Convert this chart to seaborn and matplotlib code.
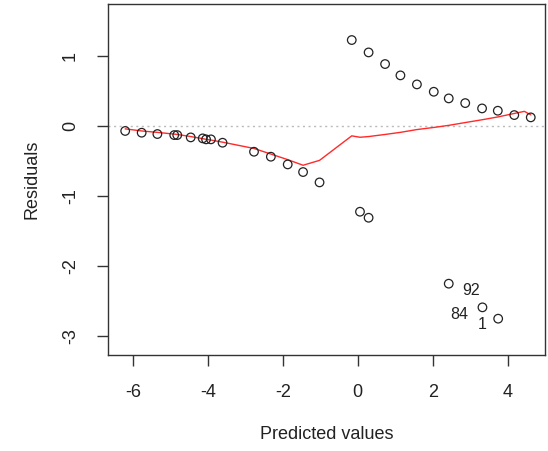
import numpy as np
import pandas as pd
import matplotlib
matplotlib.use("Agg")
import matplotlib.pyplot as plt
import seaborn as sns

# fitted values and residuals
fitted = [-6.21, -5.77, -5.35, -4.90, -4.82, -4.46, -4.14, -4.05, -3.92, -3.61,
          -2.77, -2.32, -1.87, -1.46, -1.02, -0.16, 0.06, 0.29, 0.29, 0.73,
          1.14, 1.58, 2.03, 2.43, 2.43, 2.87, 3.32, 3.33, 3.74, 3.75, 4.18, 4.62]
resid = [-0.07, -0.095, -0.114, -0.129, -0.129, -0.162, -0.176, -0.19, -0.19, -0.238,
         -0.367, -0.438, -0.548, -0.657, -0.805, 1.229, -1.224, 1.052, -1.31, 0.886,
         0.724, 0.595, 0.49, 0.395, -2.252, 0.328, 0.252, -2.59, 0.219, -2.752, 0.157, 0.124]

# smoother (lowess) curve
smooth_x = [-6.21, -5.77, -5.35, -4.90, -4.82, -4.46, -4.14, -4.05, -3.92, -3.61,
            -2.77, -2.32, -1.87, -1.46, -1.02, -0.16, 0.06, 0.29, 0.73, 1.14,
            1.58, 2.03, 2.43, 2.87, 3.32, 3.74, 4.18, 4.45, 4.62]
smooth_y = [-0.04, -0.07, -0.09, -0.115, -0.12, -0.15, -0.18, -0.19, -0.20, -0.23,
            -0.32, -0.40, -0.48, -0.56, -0.49, -0.14, -0.16, -0.15, -0.12, -0.09,
            -0.05, -0.02, 0.01, 0.05, 0.09, 0.13, 0.18, 0.21, 0.16]

# labelled observations
id_labels = ["92", "84", "1"]
id_x = [2.43, 3.33, 3.75]
id_y = [-2.252, -2.59, -2.752]

df = pd.DataFrame({"fitted": fitted, "resid": resid})
df_s = pd.DataFrame({"x": smooth_x, "y": smooth_y})

sns.set_style("white")
plt.rcParams["font.family"] = ["Liberation Sans", "DejaVu Sans"]

fig = plt.figure(figsize=(5.48, 4.51), dpi=100)
ax = fig.add_axes([0.197, 0.213, 0.7975, 0.778])

ax.axhline(0, color="#bbbbbb", linestyle=(0, (1.5, 2.5)), lw=1, zorder=1)
sns.scatterplot(data=df, x="fitted", y="resid", ax=ax, s=38, marker="o",
                facecolors="none", edgecolor="#222222", linewidth=0.9, zorder=3)
sns.lineplot(data=df_s, x="x", y="y", ax=ax, sort=False, estimator=None,
             color="#ff2a2a", lw=1.0, zorder=2)

offsets = [(10, -5), (-10, -5), (-8, -4)]
aligns = ["left", "right", "right"]
for lab, x, y, off, ha in zip(id_labels, id_x, id_y, offsets, aligns):
    ax.annotate(lab, (x, y), xytext=off, textcoords="offset points",
                ha=ha, va="center", fontsize=11.5, color="#222222")

ax.set_xlim(-6.67, 5.0)
ax.set_ylim(-3.27, 1.743)
ax.set_xticks([-6, -4, -2, 0, 2, 4])
ax.set_yticks([-3, -2, -1, 0, 1])
ax.set_xticklabels(["-6", "-4", "-2", "0", "2", "4"])
ax.set_yticklabels(["-3", "-2", "-1", "0", "1"], rotation=90, va="center")
ax.tick_params(axis="both", direction="out", length=8, width=1, color="#333333",
               labelsize=13, labelcolor="#222222", pad=13, left=True, bottom=True)
for sp in ax.spines.values():
    sp.set_color("#333333")
    sp.set_linewidth(1)

ax.set_xlabel("Predicted values", fontsize=13, color="#222222", labelpad=18)
ax.set_ylabel("Residuals", fontsize=13, color="#222222", labelpad=15)

fig.savefig("out.png", dpi=100)
